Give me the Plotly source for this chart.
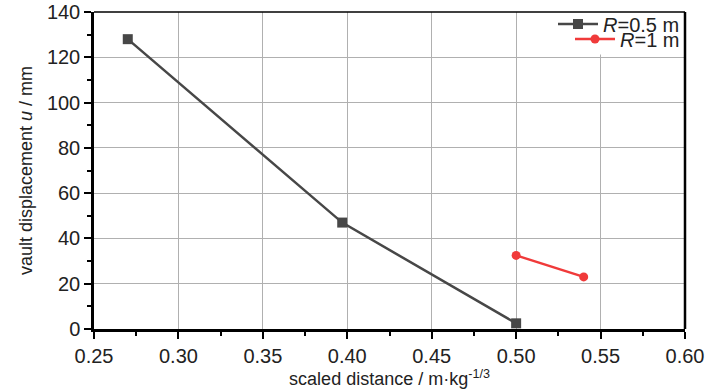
import plotly.graph_objects as go

x_r05 = [0.27, 0.397, 0.50]
y_r05 = [128, 47, 2.5]
x_r1 = [0.50, 0.54]
y_r1 = [32.5, 23]
x_ticks = [0.25, 0.30, 0.35, 0.40, 0.45, 0.50, 0.55, 0.60]
y_ticks = [0, 20, 40, 60, 80, 100, 120, 140]

FONT = "Liberation Sans Narrow, Arial Narrow, Liberation Sans, Arial, sans-serif"

fig = go.Figure()
fig.add_trace(go.Scatter(x=x_r05, y=y_r05, mode="lines+markers", name="<i>R</i>=0.5 m",
                         legend="legend",
                         line=dict(color="#474747", width=2.5),
                         marker=dict(symbol="square", size=10, color="#474747")))
fig.add_trace(go.Scatter(x=x_r1, y=y_r1, mode="lines+markers", name="<i>R</i>=1 m",
                         legend="legend2",
                         line=dict(color="#f03a3a", width=2.5),
                         marker=dict(symbol="circle", size=9, color="#f03a3a")))

leg_common = dict(xanchor="right", yanchor="middle", bgcolor="rgba(0,0,0,0)",
                  font=dict(size=20, family=FONT, color="#222"), borderwidth=0,
                  itemwidth=40)

fig.update_layout(
    width=728, height=390,
    margin=dict(l=94, r=43, t=12, b=61, autoexpand=False),
    paper_bgcolor="white", plot_bgcolor="white",
    font=dict(family=FONT, color="#222", size=20),
    showlegend=True,
    legend=dict(x=1.0, y=0.962, **leg_common),
    legend2=dict(x=1.0, y=0.9149, **leg_common),
    xaxis=dict(range=[0.25, 0.60], tickvals=x_ticks, ticktext=[f"{v:.2f}" for v in x_ticks],
               showgrid=True, gridcolor="#b0b0b0", gridwidth=1,
               showline=True, linecolor="black", linewidth=2.5, mirror=False,
               ticks="outside", ticklen=7, tickwidth=2, tickcolor="black",
               minor=dict(dtick=0.025, ticks="outside", ticklen=4, tickwidth=2, tickcolor="black", showgrid=False),
               tickfont=dict(size=20, family=FONT),
               title=dict(text="scaled distance / m·kg<sup>-1/3</sup>", font=dict(size=18, family=FONT), standoff=2),
               automargin=False, zeroline=False),
    yaxis=dict(range=[0, 140], tickvals=y_ticks,
               showgrid=True, gridcolor="#b0b0b0", gridwidth=1,
               showline=True, linecolor="black", linewidth=2.5, mirror=False,
               ticks="outside", ticklen=7, tickwidth=2, tickcolor="black",
               minor=dict(dtick=10, ticks="outside", ticklen=4, tickwidth=2, tickcolor="black", showgrid=False),
               tickfont=dict(size=20, family=FONT),
               title=dict(text="vault displacement <i>u</i> / mm", font=dict(size=18, family=FONT), standoff=10),
               automargin=False, zeroline=False),
)
# white box behind the legend (covers gridlines like the reference)
fig.add_shape(type="rect", xref="paper", yref="paper", x0=0.755, x1=1, y0=0.866, y1=1,
              fillcolor="white", line=dict(width=0), layer="above")
# top and right frame
fig.add_shape(type="line", xref="paper", yref="paper", x0=0, x1=1, y0=1, y1=1, line=dict(color="black", width=1.5))
fig.add_shape(type="line", xref="paper", yref="paper", x0=1, x1=1, y0=0, y1=1, line=dict(color="black", width=2.5))

fig.write_html("out.html", config={"displayModeBar": False},
               post_script="document.body.style.margin='0';")
